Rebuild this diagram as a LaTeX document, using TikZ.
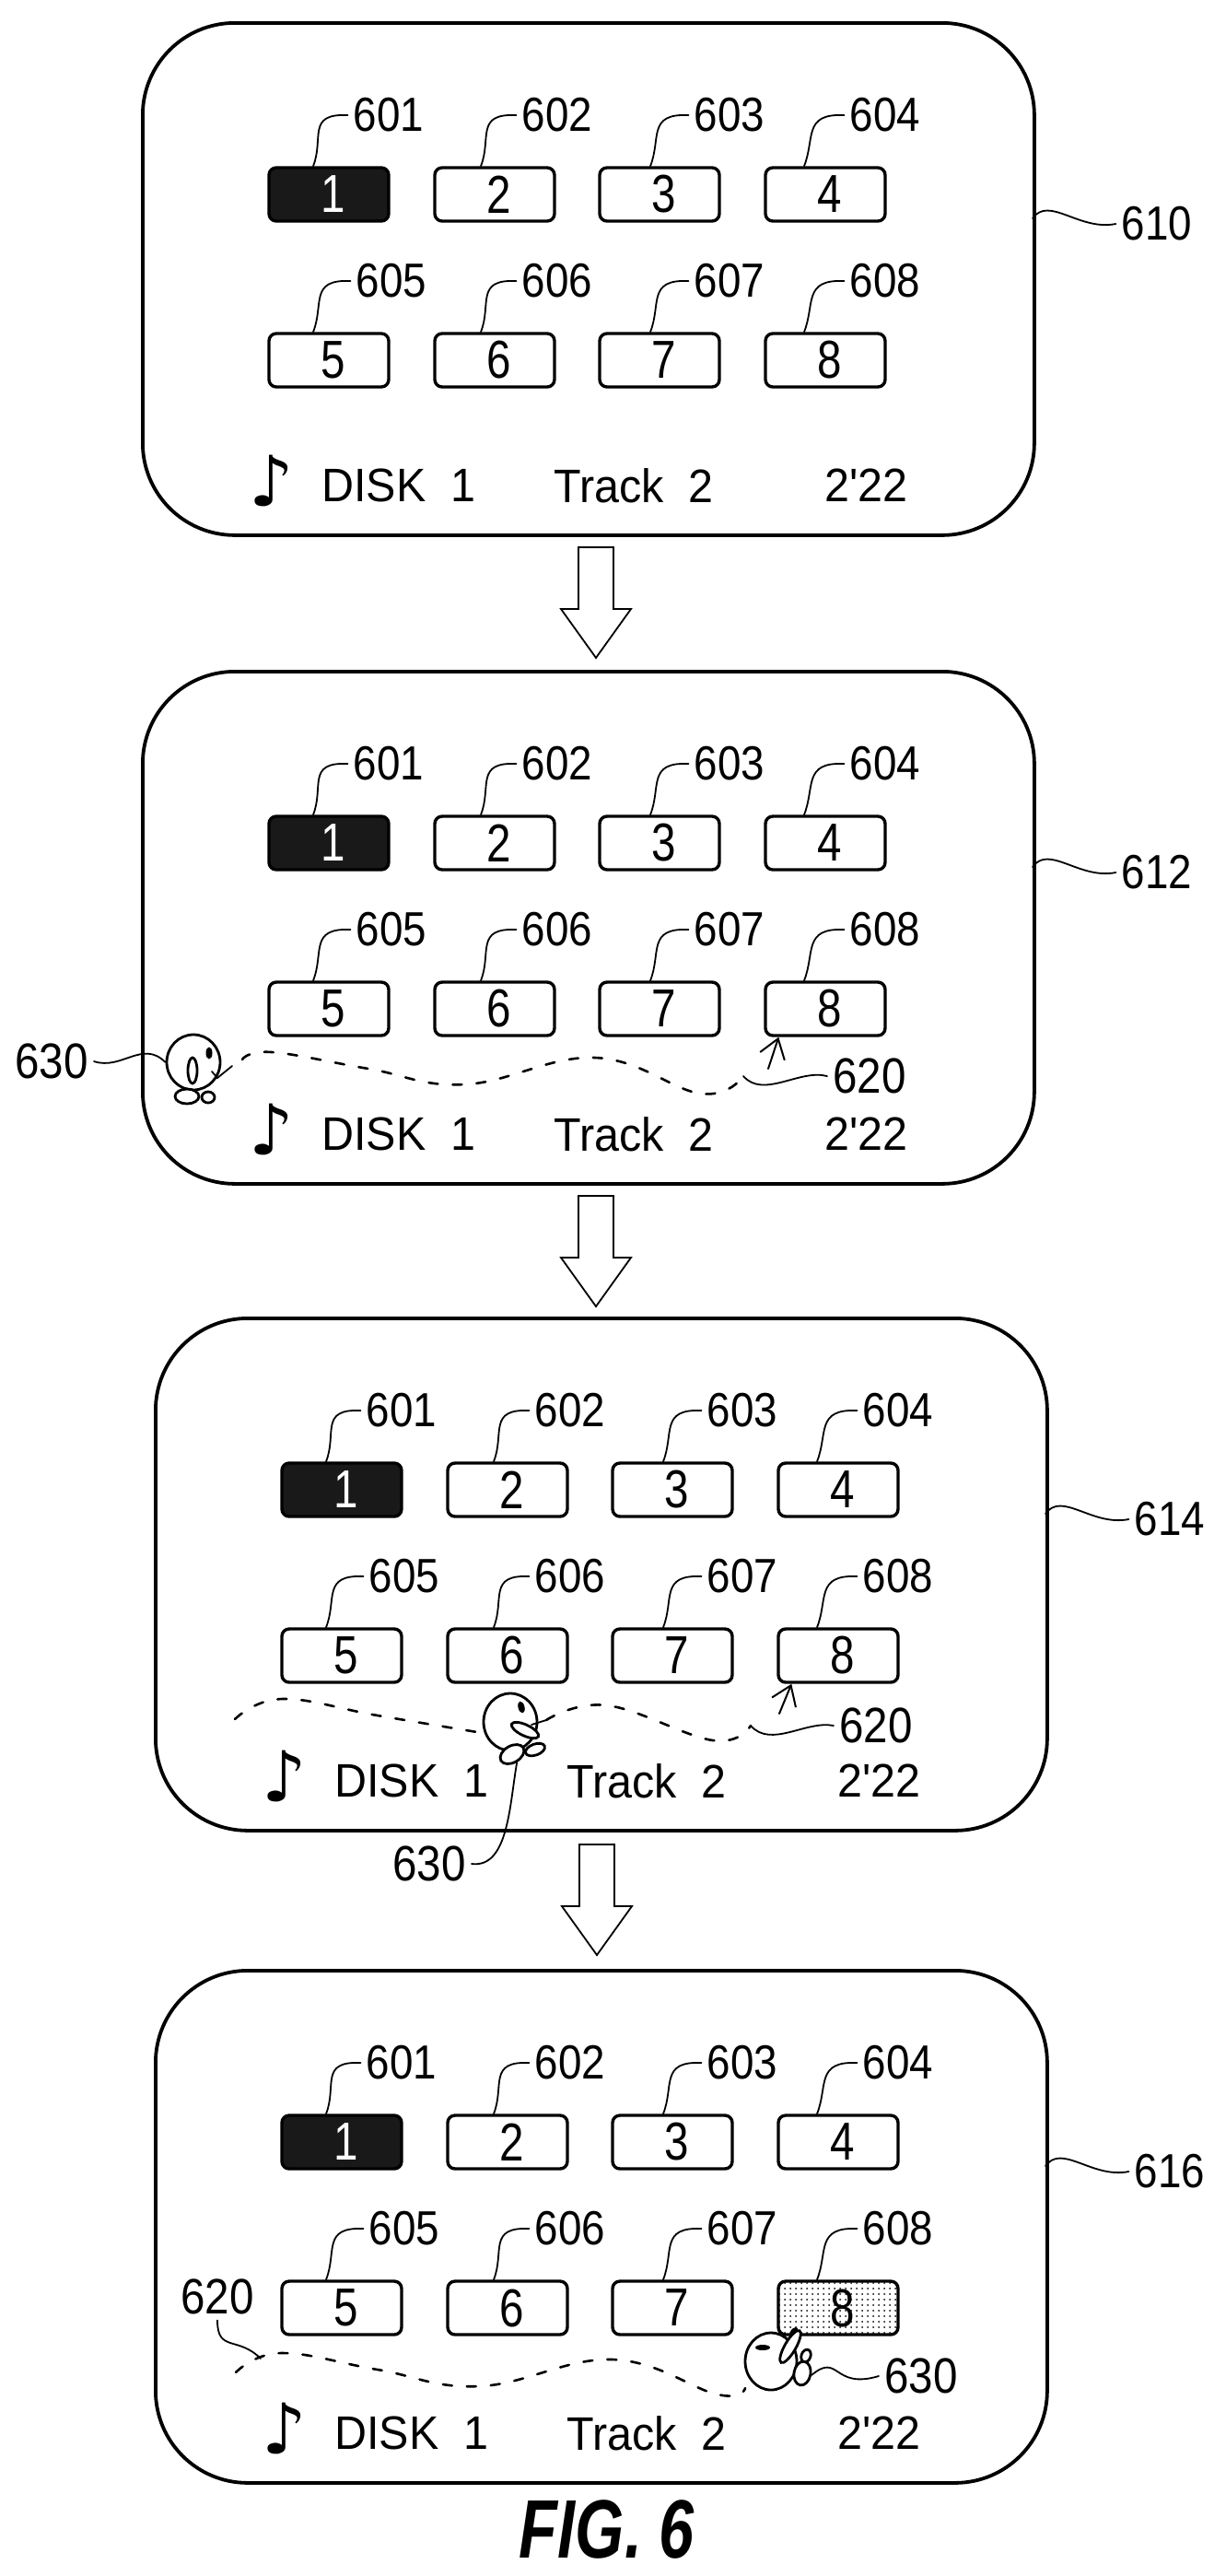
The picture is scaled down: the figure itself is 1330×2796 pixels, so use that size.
\documentclass[tikz,border=0pt]{standalone}
\usepackage{fontspec}
\usetikzlibrary{shapes.geometric,arrows.meta,patterns}
\newfontfamily\numfont[FakeStretch=0.88]{Liberation Sans}
\newfontfamily\digitfont[FakeStretch=0.82]{Liberation Sans}
\newfontfamily\statusfont[FakeStretch=0.95]{Liberation Sans}
\newfontfamily\capfont[FakeStretch=0.76]{Liberation Sans}
\newfontfamily\notefont{DejaVu Sans}

%One screen: number, left, top, style of button 8
\newcommand{\screen}[4]{
	\begin{scope}[shift={(#2,#3)}]
		\node[screenbox] (s#1) at (0,0) {};
		\foreach \k/\bx/\by/\lx/\fx/\kind in {1/204/188/65/-8.5/btnon,2/384/188/68/-7.5/btn,3/563/188/76/-5/btn,4/743/188/65/-11.5/btn,
				5/204/368/68/-8.5/btn,6/384/368/68/-7.5/btn,7/563/368/76/-5/btn,8/743/368/65/-11.5/#4}{
			\node[\kind] (b#1-\k) at (\bx,\by) {\hspace*{5pt}\k};
			\node[reflabel] (l#1-\k) at (\bx+\lx,\by-86) {60\k};
			\draw[leader] (l#1-\k.west) .. controls +(-45,-2) and +(12,-30) .. ([xshift=\fx pt]b#1-\k.north);
		}
		\node[notefont,font=\notefont\fontsize{38}{38}\selectfont] (n#1) at (142,499) {\char"266A};
		\node[status] (d#1) at (196,504) {DISK~~1};
		\node[status] (t#1) at (448,504) {Track~~2};
		\node[status] (c#1) at (742,504) {2'22};
		\coordinate (r#1) at (968,214);
		\node[reflabel] (f#1) at (1103,220) {#1};
		\draw[leader] (r#1) .. controls +(18,-25) and +(-40,8) .. (f#1.west);
	\end{scope}
}

\begin{document}
\begin{tikzpicture}
		[x=0.5pt,y=-0.5pt,line cap=round,
		%Styles
		notefont/.style={inner sep=0pt},
		screenbox/.style={draw,anchor=north west,line width=1.9pt,rounded corners=50pt,minimum width=484pt,minimum height=278pt,inner sep=0pt},
		btn/.style={draw,line width=1.7pt,rounded corners=4pt,minimum width=65pt,minimum height=29pt,inner sep=0pt,font=\digitfont\fontsize{29}{29}\selectfont},
		btnon/.style={btn,fill=black!90,text=white},
		btnhit/.style={btn,pattern=dots},
		reflabel/.style={inner sep=3pt,font=\numfont\fontsize{26}{26}\selectfont},
		biglabel/.style={inner sep=3pt,font=\numfont\fontsize{27}{27}\selectfont},
		status/.style={anchor=west,inner sep=0pt,font=\statusfont\fontsize{25.5}{25.5}\selectfont},
		leader/.style={line width=0.9pt},
		trail/.style={line width=1.3pt,dash pattern=on 5pt off 8pt},
		pointer/.style={line width=1pt,-{Straight Barb[length=10pt,width=14pt]}},
		blockarrow/.style={draw,line width=0.9pt,line join=miter},
		blob/.style={ellipse,draw,line width=1.4pt,inner sep=0pt,fill=white},
		eye/.style={ellipse,fill,inner sep=0pt}
		]
		
		\useasboundingbox (0,0) rectangle (1330,2796);
		
		%The screens
		\screen{610}{153}{23}{btn}
		\screen{612}{153}{727}{btn}
		\screen{614}{167}{1429}{btn}
		\screen{616}{167}{2137}{btnhit}
		
		%Arrows between the screens
		\foreach \ax/\ay in {647/594,647/1298,648/2002}{
			\draw[blockarrow] (\ax-19,\ay) -- (\ax+19,\ay) -- (\ax+19,\ay+67) -- (\ax+38,\ay+67)
				-- (\ax,\ay+120) -- (\ax-38,\ay+67) -- (\ax-19,\ay+67) -- cycle;
		}
		
		%Second screen
		\node[blob,minimum width=29pt,minimum height=30pt] (h2) at (210,1153) {};
		\node[eye,minimum width=3.5pt,minimum height=6.5pt] (e2) at (227,1143) {};
		\node[blob,minimum width=5pt,minimum height=14pt] (m2) at (209,1162) {};
		\node[blob,minimum width=13pt,minimum height=8pt] (p2) at (203,1190) {};
		\node[blob,minimum width=7pt,minimum height=6pt] (q2) at (226,1191) {};
		\node[biglabel] (w2) at (56,1152) {630};
		\draw[leader] (w2.east) .. controls +(30,10) and +(-25,-25) .. (h2.west);
		\coordinate (a2) at (263,1150);
		\coordinate (z2) at (807,1168);
		\coordinate (y2) at (834,1160);
		\draw[leader] (230,1163) -- (236,1170) -- (252,1157);
		\draw[trail] plot[smooth,tension=.7] coordinates {(a2) (295,1142) (400,1160) (505,1177) (646,1148) (761,1187) (z2)};
		\draw[pointer] (y2) -- ([xshift=8pt]b612-8.south west);
		\node[biglabel] (v2) at (944,1168) {620};
		\draw[leader] (z2) .. controls +(22,25) and +(-30,-8) .. (v2.west);
		
		%Third screen
		\node[blob,minimum width=29pt,minimum height=31pt] (h3) at (554,1869) {};
		\node[eye,minimum width=3.5pt,minimum height=6.5pt,rotate=15] (e3) at (566,1853) {};
		\node[blob,minimum width=16pt,minimum height=6pt,rotate=-25] (m3) at (570,1878) {};
		\node[blob,minimum width=14pt,minimum height=9pt,rotate=30] (p3) at (556,1904) {};
		\node[blob,minimum width=11pt,minimum height=6pt,rotate=20] (q3) at (581,1899) {};
		\node[biglabel] (w3) at (466,2023) {630};
		\draw[leader] (w3.east) .. controls +(40,5) and +(-8,45) .. (p3.south);
		\coordinate (a3) at (255,1866);
		\coordinate (g3) at (593,1867);
		\coordinate (z3) at (815,1873);
		\coordinate (y3) at (846,1860);
		\draw[leader] (577,1872) -- (g3);
		\draw[trail] plot[smooth,tension=.7] coordinates {(a3) (306,1844) (410,1862) (524,1881)};
		\draw[trail] plot[smooth,tension=.7] coordinates {(g3) (659,1851) (774,1889) (z3)};
		\draw[pointer] (y3) -- ([xshift=8pt]b614-8.south west);
		\node[biglabel] (v3) at (951,1873) {620};
		\draw[leader] (z3) .. controls +(22,25) and +(-30,-6) .. (v3.west);
		
		%Fourth screen
		\node[blob,minimum width=28pt,minimum height=31pt] (h4) at (837,2563) {};
		\node[eye,minimum width=8pt,minimum height=3pt] (e4) at (828,2548) {};
		\node[blob,minimum width=7pt,minimum height=5pt,rotate=70] (o4) at (875,2557) {};
		\node[blob,minimum width=20pt,minimum height=6pt,rotate=60] (m4) at (858,2547) {};
		\node[eye,minimum width=5pt,minimum height=3pt,rotate=40] (t4) at (862,2530) {};
		\node[blob,minimum width=13pt,minimum height=9pt,rotate=80] (p4) at (871,2576) {};
		\node[biglabel] (w4) at (1000,2579) {630};
		\draw[leader] (p4.south) .. controls +(30,-25) and +(-50,15) .. (w4.west);
		\coordinate (a4) at (256,2575);
		\coordinate (z4) at (283,2560);
		\coordinate (y4) at (809,2592);
		\draw[trail] plot[smooth,tension=.7] coordinates {(a4) (305,2554) (410,2572) (521,2590) (665,2561) (779,2599) (y4)};
		\node[biglabel] (v4) at (236,2493) {620};
		\draw[leader] (v4.south) .. controls +(0,35) and +(-25,-25) .. (z4);
		
		%Figure caption
		\node[inner sep=0pt,font=\capfont\bfseries\itshape\fontsize{45}{45}\selectfont] (cap) at (659,2745) {FIG. 6};
	\end{tikzpicture}
\end{document}
